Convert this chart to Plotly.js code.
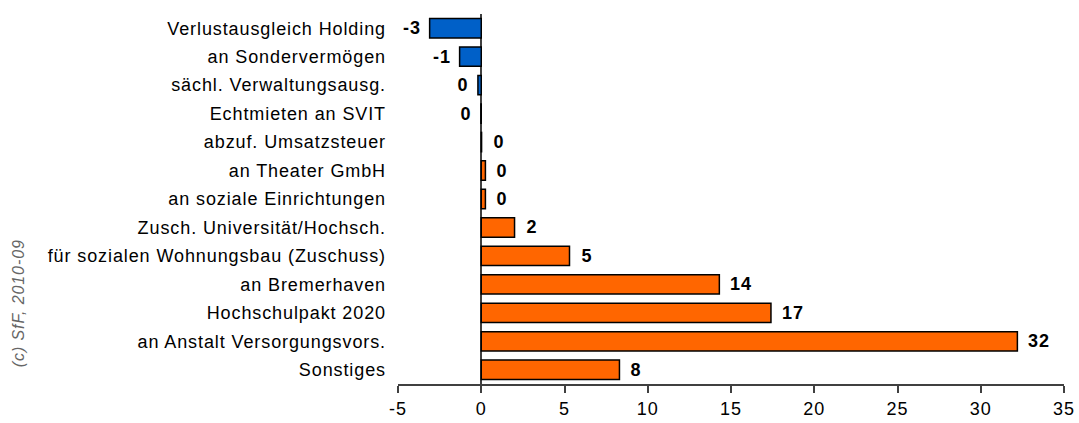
<!DOCTYPE html>
<html>
<head>
<meta charset="utf-8">
<script src="https://cdn.plot.ly/plotly-3.0.1.min.js"></script>
<style>
html,body{margin:0;padding:0;background:#fff;}
#chart{width:1079px;height:423px;}
#chart .ytick text, #chart .xtick text, #chart .annotation-text { letter-spacing: 0.9px; }
</style>
</head>
<body>
<div id="chart"></div>
<script>
const categories = [
  "Verlustausgleich Holding",
  "an Sondervermögen",
  "sächl. Verwaltungsausg.",
  "Echtmieten an SVIT",
  "abzuf. Umsatzsteuer",
  "an Theater GmbH",
  "an soziale Einrichtungen",
  "Zusch. Universität/Hochsch.",
  "für sozialen Wohnungsbau (Zuschuss)",
  "an Bremerhaven",
  "Hochschulpakt 2020",
  "an Anstalt Versorgungsvors.",
  "Sonstiges"
];
const values = [-3.1, -1.3, -0.2, -0.02, 0.02, 0.25, 0.25, 2.0, 5.3, 14.3, 17.4, 32.2, 8.3];
const tickVals = [-5, 0, 5, 10, 15, 20, 25, 30, 35];

const labels = values.map(v => { const r = Math.round(v); return r === 0 ? "0" : String(r); });
const colors = values.map(v => v < 0 ? "#0060C8" : "#FF6600");

const trace = {
  type: "bar",
  orientation: "h",
  y: categories,
  x: values,
  marker: { color: colors, line: { color: "#000000", width: 1.5 } },
  width: 0.68,
  hoverinfo: "none"
};

const valueAnnotations = values.map((v, i) => ({
  x: v, y: categories[i], xref: "x", yref: "y",
  text: labels[i], showarrow: false,
  xanchor: v < 0 ? "right" : "left",
  xshift: v < 0 ? -8 : 10,
  font: { family: "Liberation Sans, Arial, sans-serif", size: 18, color: "#000", weight: "bold" }
}));

const layout = {
  width: 1079, height: 423,
  margin: { l: 398, r: 15, t: 14, b: 39 },
  paper_bgcolor: "#fff", plot_bgcolor: "#fff",
  showlegend: false,
  font: { family: "Liberation Sans, Arial, sans-serif", size: 18, color: "#000" },
  xaxis: {
    range: [-5, 35],
    tickvals: tickVals,
    ticktext: tickVals.map(String),
    showgrid: false,
    zeroline: true, zerolinecolor: "#404040", zerolinewidth: 2,
    showline: true, linecolor: "#404040", linewidth: 2,
    ticks: "outside", ticklen: 7, tickwidth: 2, tickcolor: "#404040",
    tickfont: { size: 18, color: "#000" }
  },
  yaxis: {
    autorange: "reversed",
    showgrid: false, zeroline: false, showline: false,
    ticks: "", ticklabelstandoff: 11,
    tickfont: { size: 18, color: "#000" }
  },
  annotations: valueAnnotations.concat([{
    text: "(c) SfF, 2010-09",
    xref: "paper", yref: "paper",
    x: (18 - 398) / 666, y: (384 - 303) / 370,
    xanchor: "center", yanchor: "middle",
    textangle: -90, showarrow: false,
    font: { family: "Liberation Sans, Arial, sans-serif", size: 16, color: "#666", style: "italic" }
  }])
};

Plotly.newPlot("chart", [trace], layout, { staticPlot: true, displayModeBar: false });
</script>
</body>
</html>
